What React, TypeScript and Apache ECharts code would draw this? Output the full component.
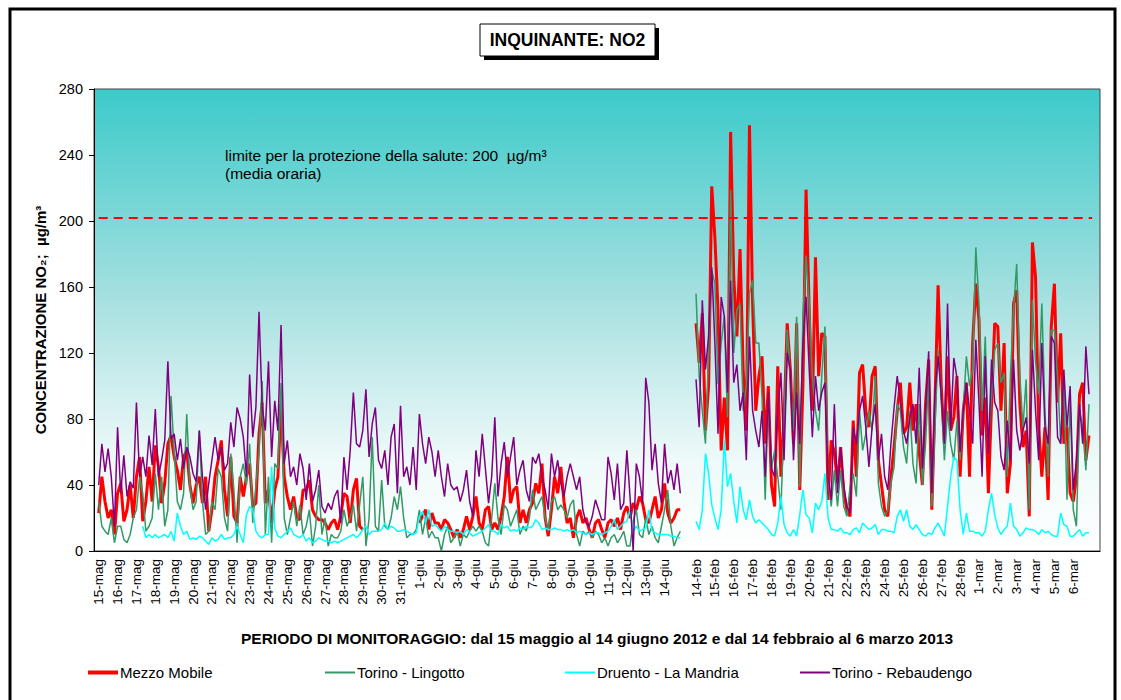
import React, { useEffect, useRef } from "react";
import * as echarts from "echarts";

// ---------- categories (days) ----------
const magDays = [
  "15-mag", "16-mag", "17-mag", "18-mag", "19-mag", "20-mag", "21-mag", "22-mag", "23-mag", "24-mag",
  "25-mag", "26-mag", "27-mag", "28-mag", "29-mag", "30-mag", "31-mag", "1-giu", "2-giu", "3-giu",
  "4-giu", "5-giu", "6-giu", "7-giu", "8-giu", "9-giu", "10-giu", "11-giu", "12-giu", "13-giu", "14-giu",
];
const febDays = [
  "14-feb", "15-feb", "16-feb", "17-feb", "18-feb", "19-feb", "20-feb", "21-feb", "22-feb", "23-feb",
  "24-feb", "25-feb", "26-feb", "27-feb", "28-feb", "1-mar", "2-mar", "3-mar", "4-mar", "5-mar", "6-mar",
];
const SLOTS_PER_DAY = 6; // one value every 4 hours
const LEAD_SLOTS = 1;
const GAP_SLOTS = 4;
const TRAIL_SLOTS = 3;

const yMin = 0;
const yMax = 280;
const yStep = 40;
const LIMIT = 202;

// ---------- values (µg/m³), 6 per day ----------
const _ = null;
const mezzoMag = [
  23, 45, 30, 20, 25, 10, 35, 41, 18, 25, 40, 20, 45, 57, 18, 30, 51, 30, 64, 51, 29, 41, 65, 70,
  57, 49, 37, 57, 61, 40, 29, 40, 45, 29, 45, 12, 25, 45, 55, 67, 37, 21, 57, 21, 17, 45, 33, 45,
  53, 27, 29, 71, 90, 29, 37, 17, 37, 45, 89, 45, 33, 25, 33, 20, 19, 37, 37, 43, 25, 21, 19, 19,
  17, 13, 17, 19, 13, 21, 35, 33, 17, 37, 44, 15, 13, _, _, _, _, _, _, _, _, _, _, _,
  _, _, _, _, _, _, 17, 21, 25, 13, 23, 17, 17, 13, 19, 17, 13, 8, 13, 8, 13, 21, 13, 21,
  33, 17, 13, 25, 27, 13, 17, 13, 21, 33, 57, 29, 37, 39, 17, 25, 17, 25, 29, 41, 35, 53, 20, 9,
  25, 45, 35, 51, 30, 17, 20, 8, 20, 25, 17, 20, 13, 8, 17, 19, 13, 8, 17, 19, 15, 20, 13, 23,
  27, 20, 29, 25, 33, 29, 19, 17, 25, 33, 20, 25, 41, 23, 17, 20, 25, 25,
];
const mezzoFeb = [
  138, 114, 144, 73, 100, 221, 190, 146, 61, 93, 61, 254, 166, 130, 183, 110, 73, 258,
  150, 85, 106, 118, 65, 100, 40, 27, 112, 45, 80, 138, 110, 65, 138, 37, 100, 219,
  146, 85, 178, 106, 132, 130, 31, 67, 60, 41, 63, 35, 25, 21, 79, 45, 108, 113,
  85, 75, 106, 112, 55, 40, 25, 21, 45, 63, 85, 102, 71, 75, 102, 73, 89, 60,
  40, 89, 116, 25, 89, 161, 100, 65, 118, 73, 81, 106, 45, 85, 102, 45, 126, 162,
  140, 70, 93, 35, 89, 138, 136, 85, 126, 35, 53, 150, 158, 89, 63, 73, 21, 187,
  166, 75, 45, 75, 31, 136, 162, 90, 132, 65, 75, 35, 30, 45, 95, 102, 55, 70,
];
const lingottoMag = [
  30, 15, 12, 10, 20, 5, 15, 15, 7, 5, 10, 20, 25, 45, 35, 12, 15, 20, 47, 25, 45, 15, 25, 94,
  60, 30, 25, 35, 83, 40, 25, 30, 73, 30, 10, 12, 30, 25, 50, 45, 20, 12, 59, 37, 5, 45, 53, 40,
  65, 17, 40, 60, 103, 10, 45, 5, 53, 50, 102, 20, 10, 20, 30, 15, 28, 10, 15, 25, 3, 15, 40, 10,
  20, 3, 10, 8, 8, 12, 25, 15, 20, 28, 12, 28, 45, 3, 20, 69, 15, 12, 43, 15, 13, 20, 33, 25,
  39, 20, 8, 10, 10, 13, 25, 10, 20, 8, 12, 8, 8, 0, 10, 15, 5, 8, 12, 3, 10, 8, 12, 15,
  12, 15, 12, 5, 3, 20, 41, 20, 10, 28, 25, 15, 20, 25, 10, 15, 12, 20, 37, 25, 29, 33, 20, 12,
  30, 33, 25, 28, 25, 20, 28, 31, 10, 3, 12, 10, 12, 8, 12, 10, 5, 8, 3, 8, 10, 5, 8, 12,
  3, 3, 18, 25, 10, 8, 20, 10, 15, 8, 5, 15, 25, 37, 15, 3, 8, 12,
];
const lingottoFeb = [
  156, 106, 85, 65, 120, 170, 162, 101, 126, 142, 81, 219, 120, 146, 150, 85, 100, 156,
  164, 126, 126, 93, 31, 91, 50, 61, 45, 25, 80, 134, 106, 73, 142, 39, 142, 179,
  150, 106, 85, 73, 106, 136, 45, 27, 49, 27, 49, 27, 21, 39, 47, 33, 85, 61,
  71, 85, 73, 106, 41, 27, 21, 25, 41, 51, 89, 85, 63, 53, 85, 53, 41, 89,
  40, 65, 106, 27, 75, 122, 95, 55, 85, 65, 55, 79, 55, 85, 118, 100, 110, 184,
  150, 85, 130, 65, 95, 122, 126, 102, 108, 45, 106, 146, 174, 106, 75, 104, 25, 152,
  115, 95, 150, 85, 45, 134, 134, 106, 65, 106, 31, 91, 25, 15, 85, 75, 49, 89,
];
const druentoMag = [
  _, _, _, _, _, _, _, _, _, _, _, _, _, _, 15, 8, 10, 8, 10, 8, 9, 10, 8, 12,
  6, 23, 15, 10, 12, 7, 8, 7, 9, 8, 6, 4, 8, 6, 7, 10, 7, 8, 8, 10, 15, 10, 5, 22,
  27, 25, 12, 9, 8, 10, 10, 51, 14, 9, 8, 10, 12, 14, 10, 9, 8, 10, 6, 8, 5, 6, 8, 7,
  6, 6, 5, 6, 5, 6, 7, 8, 9, 10, 8, 10, 13, 15, 10, 12, 12, 12, 13, 17, 13, 15, 14, 12,
  12, 13, 12, 11, 10, 11, 21, 24, 17, 25, 15, 16, 14, 12, 15, 13, 12, 12, 11, 12, 10, 13, 11, 9,
  10, 11, 12, 14, 16, 12, 12, 10, 16, 14, 15, 12, 13, 12, 14, 13, 15, 14, 15, 19, 17, 13, 14, 13,
  13, 14, 13, 13, 12, 13, 12, 13, 11, 12, 11, 10, 11, 10, 11, 11, 10, 11, 12, 15, 19, 13, 15, 17,
  18, 25, 12, 15, 12, 13, 14, 25, 12, 11, 10, 10, 10, 10, 9, 9, 8, 8,
];
const druentoFeb = [
  18, 13, 25, 59, 47, 28, 20, 13, 25, 67, 39, 47, 30, 17, 39, 25, 19, 31,
  21, 17, 19, 17, 15, 13, 10, 9, 17, 33, 16, 11, 9, 13, 9, 22, 37, 22,
  20, 11, 29, 25, 30, 47, 20, 13, 13, 12, 14, 11, 11, 10, 13, 14, 11, 17,
  15, 13, 14, 16, 10, 13, 13, 12, 12, 11, 21, 25, 18, 25, 15, 13, 16, 13,
  10, 9, 11, 10, 14, 17, 13, 9, 27, 45, 57, 55, 25, 10, 23, 12, 12, 11,
  11, 9, 12, 25, 35, 22, 14, 10, 13, 15, 29, 15, 13, 9, 11, 14, 13, 13,
  12, 10, 13, 11, 12, 10, 9, 9, 23, 16, 15, 9, 9, 11, 13, 9, 11, 11,
];
const rebaudengoMag = [
  40, 65, 48, 62, 45, 15, 75, 35, 58, 33, 42, 38, 90, 45, 57, 45, 70, 52, 86, 45, 55, 67, 115, 68,
  71, 55, 68, 50, 63, 57, 47, 42, 73, 45, 25, 41, 55, 69, 55, 63, 49, 53, 78, 63, 87, 80, 69, 45,
  107, 69, 87, 145, 87, 73, 115, 57, 91, 73, 137, 53, 67, 45, 51, 40, 59, 50, 31, 53, 30, 37, 49, 27,
  23, 29, 25, 33, 37, 17, 57, 37, 61, 96, 65, 63, 73, 98, 57, 77, 87, 55, 50, 61, 40, 69, 77, 35,
  88, 45, 51, 40, 63, 37, 83, 65, 53, 69, 60, 45, 61, 45, 33, 53, 40, 37, 39, 30, 37, 49, 30, 21,
  61, 45, 71, 50, 29, 45, 81, 33, 53, 66, 45, 57, 69, 40, 49, 55, 37, 30, 57, 53, 59, 45, 37, 25,
  59, 45, 55, 41, 33, 45, 53, 45, 37, 45, 25, 17, 15, 21, 31, 25, 19, 19, 57, 47, 31, 53, 25, 29,
  61, 33, 0, 53, 45, 29, 105, 90, 49, 65, 41, 29, 65, 41, 49, 37, 53, 35,
];
const rebaudengoFeb = [
  104, 75, 152, 110, 130, 172, 126, 71, 154, 142, 96, 164, 102, 113, 85, 96, 55, 130,
  85, 73, 63, 85, 45, 96, 50, 45, 85, 108, 55, 120, 110, 55, 96, 65, 126, 154,
  110, 69, 106, 85, 96, 102, 45, 31, 89, 35, 63, 40, 27, 23, 75, 65, 85, 94,
  75, 51, 75, 89, 55, 71, 45, 37, 65, 87, 106, 91, 73, 65, 81, 89, 65, 111,
  50, 85, 121, 35, 95, 118, 95, 65, 150, 73, 117, 105, 60, 85, 102, 85, 65, 128,
  90, 45, 118, 59, 116, 90, 85, 57, 49, 79, 55, 116, 73, 61, 73, 81, 53, 122,
  85, 55, 126, 75, 65, 130, 126, 69, 65, 110, 75, 100, 37, 55, 89, 65, 124, 95,
];

const seriesDefs = [
  { name: "Mezzo Mobile", mag: mezzoMag, feb: mezzoFeb, color: "#FF0000", width: 3, legendH: 4 },
  { name: "Torino - Lingotto", mag: lingottoMag, feb: lingottoFeb, color: "#339966", width: 1.5, legendH: 2 },
  { name: "Druento - La Mandria", mag: druentoMag, feb: druentoFeb, color: "#00FFFF", width: 1.5, legendH: 2 },
  { name: "Torino - Rebaudengo", mag: rebaudengoMag, feb: rebaudengoFeb, color: "#800080", width: 1.5, legendH: 2 },
];
const legendLeft = [88, 325, 565, 800];

const FONT = "'Liberation Sans', Arial, Helvetica, sans-serif";

function blanks(n: number) {
  return new Array(n).fill(null);
}

export default function App() {
  const ref = useRef<HTMLDivElement>(null);

  useEffect(() => {
    if (!ref.current) return;
    const chart = echarts.init(ref.current, undefined, { renderer: "svg" });

    // build category slots and their labels
    const labels: string[] = [];
    blanks(LEAD_SLOTS).forEach(() => labels.push(""));
    magDays.forEach((d) => {
      for (let s = 0; s < SLOTS_PER_DAY; s++) labels.push(s === 0 ? d : "");
    });
    blanks(GAP_SLOTS).forEach(() => labels.push(""));
    febDays.forEach((d) => {
      for (let s = 0; s < SLOTS_PER_DAY; s++) labels.push(s === 0 ? d : "");
    });
    const febEnd = labels.length - 1;
    blanks(TRAIL_SLOTS).forEach(() => labels.push(""));
    const cats = labels.map((_l, i) => String(i));

    const series: any[] = seriesDefs.map((s, i) => {
      const data = [
        ...blanks(LEAD_SLOTS),
        ...s.mag,
        ...blanks(GAP_SLOTS),
        ...s.feb,
        ...blanks(TRAIL_SLOTS),
      ];
      const ser: any = {
        type: "line",
        name: s.name,
        data,
        symbol: "none",
        showSymbol: false,
        connectNulls: false,
        lineStyle: { color: s.color, width: s.width },
        itemStyle: { color: s.color },
        z: 2 + i,
      };
      if (i === 0) {
        ser.markLine = {
          silent: true,
          symbol: "none",
          label: { show: false },
          lineStyle: { color: "#FF0000", type: [9, 6], width: 2 },
          data: [[{ xAxis: String(LEAD_SLOTS), yAxis: LIMIT }, { xAxis: String(febEnd + 1), yAxis: LIMIT }]],
        };
      }
      return ser;
    });

    const option: any = {
      animation: false,
      backgroundColor: "#FFFFFF",
      textStyle: { fontFamily: FONT },
      grid: {
        left: 94,
        right: 21,
        top: 89,
        bottom: 149,
        show: true,
        borderColor: "#444",
        borderWidth: 1,
        backgroundColor: {
          type: "linear",
          x: 0,
          y: 0,
          x2: 0,
          y2: 1,
          colorStops: [
            { offset: 0, color: "#3CCACA" },
            { offset: 0.45, color: "#A6E0E0" },
            { offset: 0.8, color: "#EEF9F9" },
            { offset: 1, color: "#FFFFFF" },
          ],
        },
      },
      legend: seriesDefs.map((s, i) => ({
        data: [{ name: s.name, icon: "rect", itemStyle: { color: s.color } }],
        left: legendLeft[i],
        top: 665,
        padding: 0,
        itemWidth: 30,
        itemHeight: s.legendH,
        itemGap: 0,
        selectedMode: false,
        textStyle: { fontSize: 15, color: "#000", fontFamily: FONT, padding: [0, 0, 0, -3] },
      })),
      xAxis: {
        type: "category",
        data: cats,
        boundaryGap: true,
        axisLine: { lineStyle: { color: "#000", width: 1 } },
        axisTick: { show: false },
        splitLine: { show: false },
        axisLabel: {
          interval: 0,
          rotate: 90,
          margin: 8,
          fontSize: 13.5,
          color: "#000",
          fontFamily: FONT,
          formatter: (_v: string, idx: number) => labels[idx] || "",
        },
        name: "PERIODO DI MONITORAGGIO: dal 15 maggio al 14 giugno 2012 e dal 14 febbraio al 6 marzo 2013",
        nameLocation: "middle",
        nameGap: 79,
        nameTextStyle: { fontSize: 15.5, fontWeight: "bold", color: "#000", fontFamily: FONT },
      },
      yAxis: {
        type: "value",
        min: yMin,
        max: yMax,
        interval: yStep,
        axisLine: { show: true, lineStyle: { color: "#000", width: 1 } },
        axisTick: { show: true, length: 5, lineStyle: { color: "#000" } },
        splitLine: { show: false },
        axisLabel: { fontSize: 14.5, color: "#000", margin: 11, fontFamily: FONT },
        name: "CONCENTRAZIONE NO\u2082;  \u00B5g/m\u00B3",
        nameLocation: "middle",
        nameRotate: 90,
        nameGap: 46,
        nameTextStyle: { fontSize: 15, fontWeight: "bold", color: "#000", fontFamily: FONT },
      },
      graphic: [
        {
          type: "rect",
          z: 100,
          shape: { x: 10, y: 9, width: 1105, height: 720 },
          style: { fill: "none", stroke: "#000", lineWidth: 3 },
          silent: true,
        },
        {
          type: "rect",
          z: 100,
          shape: { x: 484, y: 28, width: 175, height: 32 },
          style: { fill: "#000" },
          silent: true,
        },
        {
          type: "rect",
          z: 101,
          shape: { x: 480, y: 24, width: 175, height: 32 },
          style: { fill: "#fff", stroke: "#000", lineWidth: 1 },
          silent: true,
        },
        {
          type: "text",
          z: 102,
          x: 567.5,
          y: 40,
          style: {
            text: "INQUINANTE: NO2",
            fill: "#000",
            font: `bold 17.5px ${FONT}`,
            align: "center",
            verticalAlign: "middle",
          },
          silent: true,
        },
        {
          type: "text",
          z: 102,
          x: 225,
          y: 155,
          style: {
            text: "limite per la protezione della salute: 200  \u00B5g/m\u00B3",
            fill: "#000",
            font: `15.5px ${FONT}`,
            align: "left",
            verticalAlign: "middle",
          },
          silent: true,
        },
        {
          type: "text",
          z: 102,
          x: 225,
          y: 173,
          style: {
            text: "(media oraria)",
            fill: "#000",
            font: `15.5px ${FONT}`,
            align: "left",
            verticalAlign: "middle",
          },
          silent: true,
        },
      ],
      series,
    };
    chart.setOption(option);
    return () => chart.dispose();
  }, []);

  return (
    <div
      ref={ref}
      style={{ position: "absolute", left: 0, top: 0, width: 1121, height: 700, background: "#fff" }}
    />
  );
}
